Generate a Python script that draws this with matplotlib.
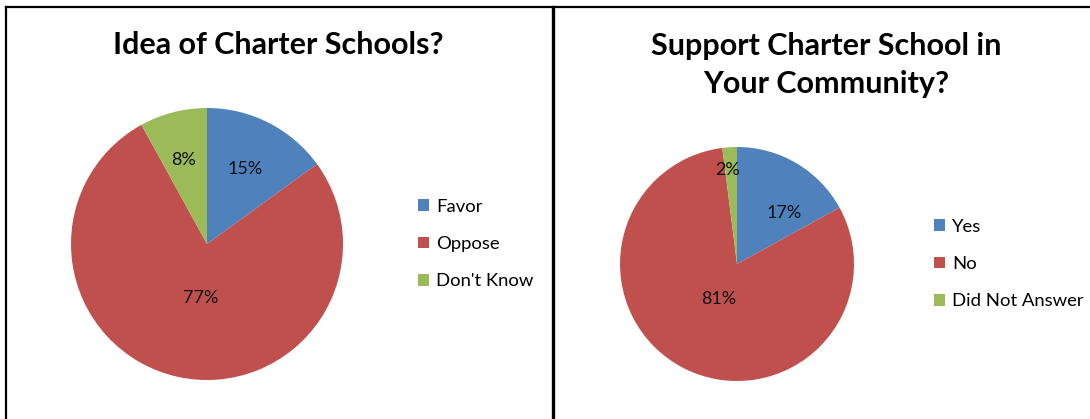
import numpy as np
import matplotlib.pyplot as plt
from matplotlib.lines import Line2D
from matplotlib.patches import Patch

# data
left_title = "Idea of Charter Schools?"
left_labels = ["Favor", "Oppose", "Don't Know"]
left_values = [15, 77, 8]

right_title = "Support Charter School in\nYour Community?"
right_labels = ["Yes", "No", "Did Not Answer"]
right_values = [17, 81, 2]

colors = ["#4F81BD", "#C0504D", "#9BBB59"]

# where each % label sits (fraction of radius, angle nudge in deg), like Excel's "best fit"
left_label_dist = [0.62, 0.40, 0.64]
left_label_turn = [0, 5.5, 1.5]
right_label_dist = [0.59, 0.34, 0.81]
right_label_turn = [-12, 0, 2]

plt.rcParams['font.family'] = ['Lato', 'DejaVu Sans']

W, H = 1090, 419
fig = plt.figure(figsize=(W / 100, H / 100), dpi=100)


def px_axes(cx, cy, r):
    # axes box (figure fractions) for a pie centred at pixel (cx, cy) with radius r
    return fig.add_axes([(cx - r) / W, (H - cy - r) / H, 2 * r / W, 2 * r / H])


def draw_pie(ax, values, dists, turns):
    wedges, _ = ax.pie(values, colors=colors, startangle=90, counterclock=False,
                       radius=1, wedgeprops=dict(linewidth=0))
    total = sum(values)
    for w, v, d, t in zip(wedges, values, dists, turns):
        ang = np.deg2rad((w.theta1 + w.theta2) / 2 + t)
        ax.text(d * np.cos(ang), d * np.sin(ang), f"{round(100 * v / total)}%",
                ha='center', va='center', fontsize=13, color='#111111')
    ax.set_xlim(-1, 1)
    ax.set_ylim(-1, 1)
    ax.set_aspect('equal')
    ax.axis('off')
    return wedges


ax1 = px_axes(207, 244, 136)
draw_pie(ax1, left_values, left_label_dist, left_label_turn)
ax2 = px_axes(737, 264, 117)
draw_pie(ax2, right_values, right_label_dist, right_label_turn)

# titles
fig.text(278 / W, 1 - 45 / H, left_title, ha='center', va='center',
         fontsize=22, fontweight='bold')
fig.text(826 / W, 1 - 65 / H, right_title, ha='center', va='center',
         fontsize=22, fontweight='bold', linespacing=1.42)


# legends
def add_legend(labels, x, y):
    handles = [Patch(facecolor=c, edgecolor='none') for c in colors]
    fig.legend(handles, labels, loc='center left', bbox_to_anchor=(x / W, 1 - y / H),
               frameon=False, fontsize=13.3, handlelength=0.62, handleheight=0.62,
               handletextpad=0.35, labelspacing=1.15, borderpad=0, borderaxespad=0)


add_legend(left_labels, 418, 244)
add_legend(right_labels, 934, 264)

# chart borders
fig.add_artist(Line2D([6 / W, 6 / W], [0, 1 - 7 / H], color='black', lw=1.6,
                      transform=fig.transFigure))
fig.add_artist(Line2D([6 / W, 1], [1 - 7 / H, 1 - 7 / H], color='black', lw=1.6,
                      transform=fig.transFigure))
fig.add_artist(Line2D([552.5 / W, 552.5 / W], [0, 1 - 7 / H], color='black', lw=2.4,
                      transform=fig.transFigure))

fig.savefig("out.png", dpi=100, facecolor='white')
